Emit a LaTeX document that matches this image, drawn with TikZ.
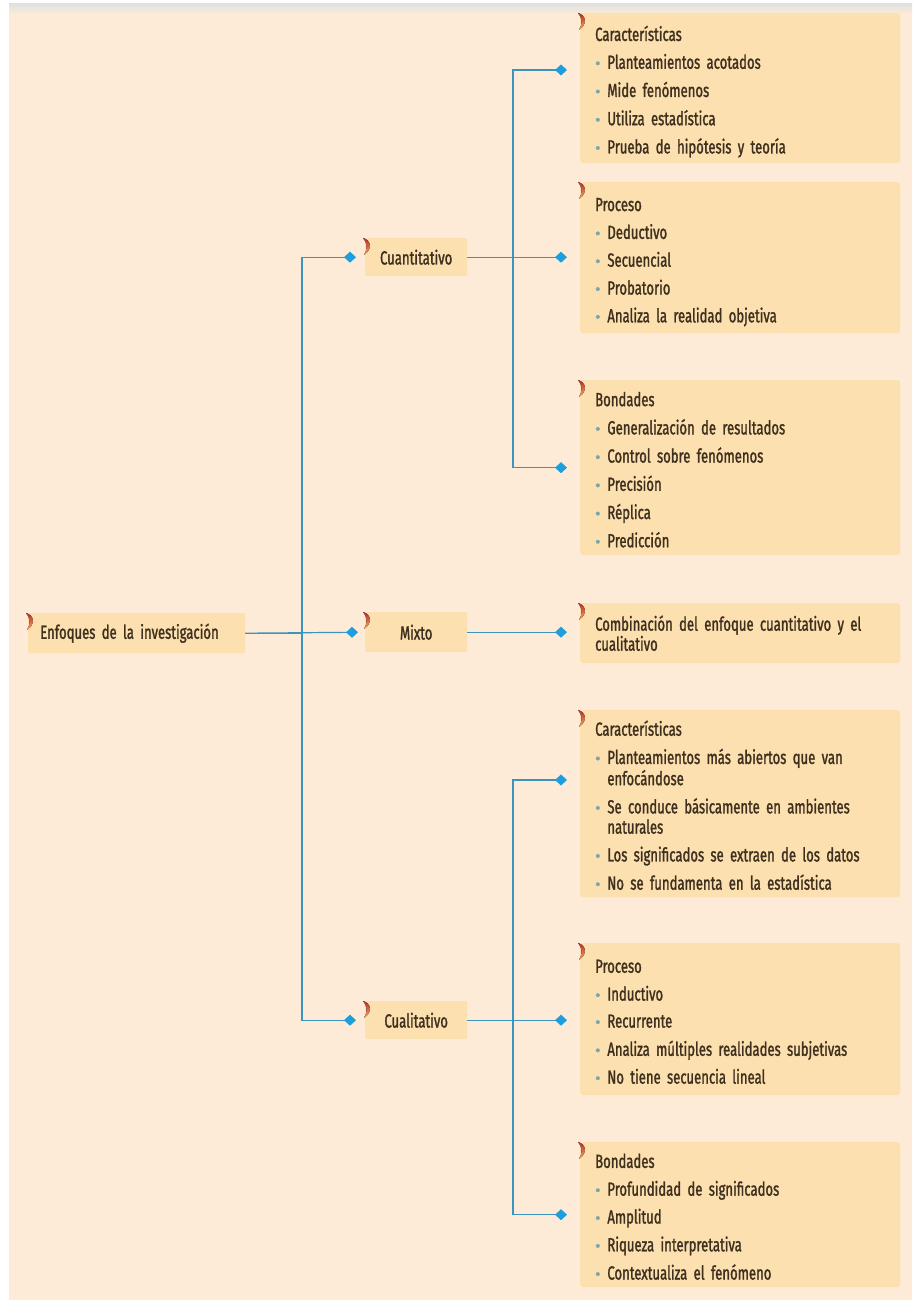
\documentclass[tikz,border=0pt]{standalone}
\usepackage{fontspec}
\setmainfont[FakeStretch=0.69,FakeBold=1.4]{Fira Sans}
\usetikzlibrary{arrows.meta}

\definecolor{bgpeach}{HTML}{FDEBD8}
\definecolor{boxfill}{HTML}{FDE0B0}
\definecolor{linkblue}{HTML}{3A94BE}
\definecolor{tipblue}{HTML}{1E9FDD}
\definecolor{txtbrown}{HTML}{3E301E}
\definecolor{dotgray}{HTML}{79A6A8}
\definecolor{markred}{HTML}{B3302A}
\definecolor{markorange}{HTML}{F3A86A}

\newcommand{\bul}{\textcolor{dotgray}{\scalebox{1.45}[1]{\fontsize{16}{16}\selectfont\textbullet}}}
\newcommand{\boxfont}{\fontsize{19}{20}\selectfont\fontdimen2\font=3.2pt\relax}
\newcommand{\head}[1]{\multicolumn{2}{@{}l@{}}{\rule{0pt}{24pt}#1}}

\tikzset{
  topic/.style={fill=boxfill, rounded corners=2pt, anchor=north west,
    minimum width=102pt, minimum height=38pt, inner sep=0pt,
    text=txtbrown, font=\boxfont},
  rootbox/.style={topic, text width=193pt, inner xsep=12pt, align=left},
  leaf/.style={fill=boxfill, rounded corners=3pt, anchor=north west,
    text width=290pt, inner xsep=15pt, inner ysep=0pt, align=left,
    text=txtbrown, font=\boxfont},
  link/.style={draw=linkblue, line width=1.2pt,
    -{Diamond[length=12pt,width=11pt,color=tipblue,fill=tipblue]}},
  tabmark/.pic={\fill[top color=markred, bottom color=markorange]
    (0,0) .. controls (8,2) and (10,11) .. (1,17) .. controls (5,11) and (4,4) .. cycle;}
}

\begin{document}
\begin{tikzpicture}[x=1pt,y=-1pt]
\useasboundingbox (0,0) rectangle (916,1305);
\fill[white] (0,0) rectangle (916,1305);
\fill[bgpeach] (9,4) rectangle (912,1300);
\fill[top color=black!12, bottom color=bgpeach] (9,4) rectangle (912,14);

\node[rootbox, minimum height=40pt] (root) at (28,613) {Enfoques de la investigación};
\node[topic] (cuanti) at (365,238) {Cuantitativo};
\node[topic, minimum height=40pt] (mixto) at (365,612) {Mixto};
\node[topic] (cuali) at (365,1001) {Cualitativo};

\node[leaf, minimum height=150pt] (c1car) at (580,13) {\begin{tabular}{@{}l@{\hspace{7pt}}l@{}}
\head{Características}\\[7pt]
\bul & Planteamientos acotados\\[7pt]
\bul & Mide fenómenos\\[7pt]
\bul & Utiliza estadística\\[7pt]
\bul & Prueba de hipótesis y teoría
\end{tabular}};
\node[leaf, minimum height=151pt] (c1pro) at (580,182) {\begin{tabular}{@{}l@{\hspace{7pt}}l@{}}
\head{Proceso}\\[7pt]
\bul & Deductivo\\[7pt]
\bul & Secuencial\\[7pt]
\bul & Probatorio\\[7pt]
\bul & Analiza la realidad objetiva
\end{tabular}};
\node[leaf, minimum height=175pt] (c1bon) at (580,380) {\begin{tabular}{@{}l@{\hspace{7pt}}l@{}}
\head{Bondades}\\[7pt]
\bul & Generalización de resultados\\[7pt]
\bul & Control sobre fenómenos\\[7pt]
\bul & Precisión\\[7pt]
\bul & Réplica\\[7pt]
\bul & Predicción
\end{tabular}};
\node[leaf, minimum height=60pt] (mixdesc) at (580,603) {Combinación del enfoque cuantitativo y el\\cualitativo};
\node[leaf, minimum height=187pt] (c2car) at (580,710) {\begin{tabular}{@{}l@{\hspace{7pt}}l@{}}
\head{Características}\\[7pt]
\bul & Planteamientos más abiertos que van\\
 & enfocándose\\[7pt]
\bul & Se conduce básicamente en ambientes\\
 & naturales\\[7pt]
\bul & Los significados se extraen de los datos\\[7pt]
\bul & No se fundamenta en la estadística
\end{tabular}};
\node[leaf, minimum height=152pt] (c2pro) at (580,943) {\begin{tabular}{@{}l@{\hspace{7pt}}l@{}}
\head{Proceso}\\[7pt]
\bul & Inductivo\\[7pt]
\bul & Recurrente\\[7pt]
\bul & Analiza múltiples realidades subjetivas\\[7pt]
\bul & No tiene secuencia lineal
\end{tabular}};
\node[leaf, minimum height=145pt] (c2bon) at (580,1142) {\begin{tabular}{@{}l@{\hspace{7pt}}l@{}}
\head{Bondades}\\[7pt]
\bul & Profundidad de significados\\[7pt]
\bul & Amplitud\\[7pt]
\bul & Riqueza interpretativa\\[7pt]
\bul & Contextualiza el fenómeno
\end{tabular}};

\foreach \n in {root,cuanti,mixto,cuali,c1car,c1pro,c1bon,mixdesc,c2car,c2pro,c2bon}
  \pic at ([xshift=-2pt]\n.north west) {tabmark};

\coordinate (trunk) at (302,0);
\coordinate (fork) at (513,0);
\path (c1car.north west) ++(0,57) coordinate (c1car-in);
\path (c2car.north west) ++(0,70) coordinate (c2car-in);

\draw[link, shorten >=7pt] (root.east) -- (mixto.west);
\draw[link, shorten >=9pt] (root.east) -- (root.east -| trunk) |- (cuanti.west);
\draw[link, shorten >=9pt] (root.east) -- (root.east -| trunk) |- (cuali.west);
\draw[link, shorten >=13pt] (mixto.east) -- (mixto.east -| mixdesc.west);
\draw[link, shorten >=13pt] (cuanti.east) -- (cuanti.east -| c1pro.west);
\draw[link, shorten >=13pt] (cuanti.east) -- (cuanti.east -| fork) |- (c1car-in);
\draw[link, shorten >=13pt] (cuanti.east) -- (cuanti.east -| fork) |- (c1bon.west);
\draw[link, shorten >=13pt] (cuali.east) -- (cuali.east -| c2pro.west);
\draw[link, shorten >=13pt] (cuali.east) -- (cuali.east -| fork) |- (c2car-in);
\draw[link, shorten >=13pt] (cuali.east) -- (cuali.east -| fork) |- (c2bon.west);
\end{tikzpicture}
\end{document}
